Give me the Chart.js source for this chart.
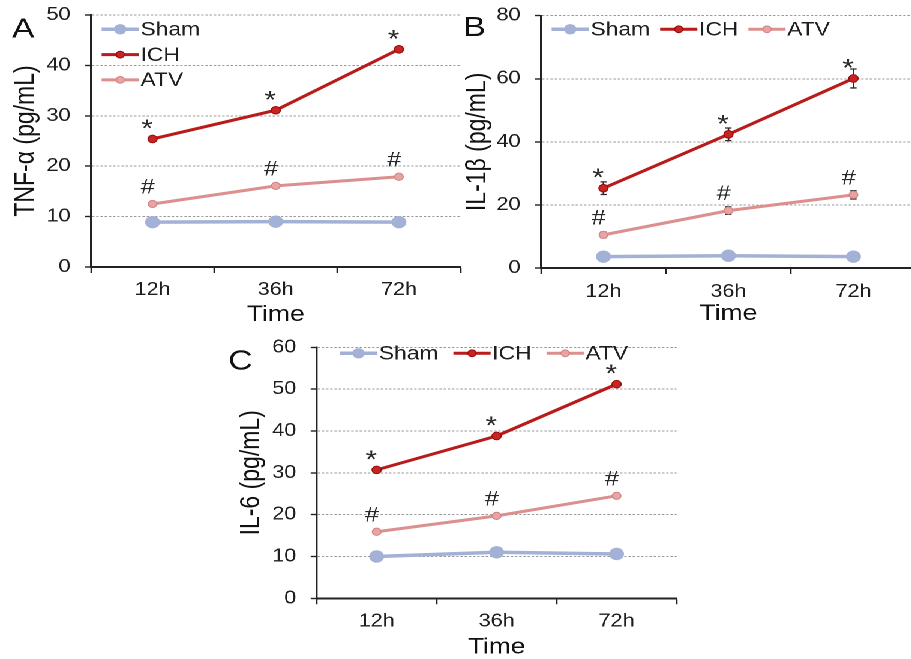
<!DOCTYPE html>
<html><head><meta charset="utf-8">
<script src="https://cdn.jsdelivr.net/npm/chart.js@4.4.1/dist/chart.umd.min.js"></script>
<style>
html,body{margin:0;padding:0;background:#fff;overflow:hidden;width:911px;height:659px;}
#stage{position:absolute;left:0;top:0;width:770px;height:659px;transform:scaleX(1.2);transform-origin:0 0;}
.p{position:absolute;}
</style></head><body>
<div id="stage">
<div class="p" style="left:0;top:0;width:390px;height:330px"><canvas id="cA" width="390" height="330"></canvas></div>
<div class="p" style="left:380px;top:0;width:390px;height:330px"><canvas id="cB" width="390" height="330"></canvas></div>
<div class="p" style="left:185px;top:330px;width:385px;height:329px"><canvas id="cC" width="385" height="329"></canvas></div>
</div>
<script>
// ---- data ----
const categories = ['12h', '36h', '72h'];
const seriesNames = ['Sham', 'ICH', 'ATV'];

const tnfSham = [8.9, 9.0, 8.9];
const tnfICH  = [25.4, 31.1, 43.2];
const tnfATV  = [12.5, 16.1, 17.9];

const il1Sham = [3.6, 3.9, 3.6];
const il1ICH  = [25.3, 42.4, 60.1];
const il1ATV  = [10.5, 18.2, 23.2];
const il1ShamErr = [0.4, 0.4, 0.4];
const il1ICHErr  = [2.0, 2.0, 3.0];
const il1ATVErr  = [0.9, 1.2, 1.3];

const il6Sham = [10.0, 11.0, 10.6];
const il6ICH  = [30.7, 38.8, 51.2];
const il6ATV  = [15.9, 19.7, 24.5];

const ichMarks = ['*', '*', '*'];
const atvMarks = ['#', '#', '#'];

const yTicksA = {max: 50, step: 10};
const yTicksB = {max: 80, step: 20};
const yTicksC = {max: 60, step: 10};

// ---- styling ----
const FONT = "'Liberation Sans', Arial, Helvetica, sans-serif";
Chart.defaults.font.family = FONT;
const INK = '#1e1e1e';
const SHAM_C = '#a2b1d5';
const ICH_C = '#b91a1a';
const ATV_C = '#dc8f8f';

const decor = {
  id: 'decor',
  beforeDatasetsDraw(chart) {
    const ctx = chart.ctx, ys = chart.scales.y;
    chart.data.datasets.forEach((ds, i) => {
      if (!ds.errors) return;
      const meta = chart.getDatasetMeta(i);
      ctx.save();
      ctx.strokeStyle = '#2a2a2a'; ctx.lineWidth = 1.3;
      meta.data.forEach((pt, j) => {
        const v = ds.data[j], e = ds.errors[j];
        const y1 = ys.getPixelForValue(v + e), y2 = ys.getPixelForValue(v - e);
        ctx.beginPath();
        ctx.moveTo(pt.x, y1); ctx.lineTo(pt.x, y2);
        ctx.moveTo(pt.x - 2.6, y1); ctx.lineTo(pt.x + 2.6, y1);
        ctx.moveTo(pt.x - 2.6, y2); ctx.lineTo(pt.x + 2.6, y2);
        ctx.stroke();
      });
      ctx.restore();
    });
  },
  afterDatasetsDraw(chart, args, o) {
    const ctx = chart.ctx;
    // significance marks
    chart.data.datasets.forEach((ds, i) => {
      if (!ds.marks) return;
      const meta = chart.getDatasetMeta(i);
      ctx.save();
      ctx.fillStyle = '#2a2a2a';
      ctx.textAlign = 'center';
      ctx.textBaseline = 'alphabetic';
      meta.data.forEach((pt, j) => {
        const m = ds.marks[j];
        if (m === '*') {
          ctx.font = '25px ' + FONT;
          ctx.fillText(m, pt.x - 4.5, pt.y - 2);
        } else {
          ctx.font = '21px ' + FONT;
          ctx.fillText(m, pt.x - 4, pt.y - 10.5);
        }
      });
      ctx.restore();
    });
    // legend
    const L = o.legend;
    ctx.save();
    ctx.font = '19px ' + FONT;
    ctx.textBaseline = 'middle';
    ctx.textAlign = 'left';
    let x = L.x, y = L.y;
    chart.data.datasets.forEach(ds => {
      ctx.strokeStyle = ds.borderColor; ctx.lineWidth = ds.borderWidth;
      ctx.beginPath(); ctx.moveTo(x, y); ctx.lineTo(x + L.len, y); ctx.stroke();
      ctx.beginPath(); ctx.arc(x + L.len / 2, y, ds.legendRadius, 0, Math.PI * 2);
      ctx.fillStyle = ds.pointBackgroundColor; ctx.fill();
      if (ds.pointBorderWidth) { ctx.strokeStyle = ds.pointBorderColor; ctx.lineWidth = ds.pointBorderWidth; ctx.stroke(); }
      ctx.fillStyle = INK;
      ctx.fillText(ds.label, x + L.len + L.textGap, y + 1);
      const w = ctx.measureText(ds.label).width;
      if (L.vertical) y += L.rowGap; else x += L.len + L.textGap + w + L.itemGap;
    });
    // panel letter
    ctx.font = '28px ' + FONT;
    ctx.fillStyle = '#111';
    ctx.textBaseline = 'alphabetic';
    ctx.fillText(o.letter.text, o.letter.x, o.letter.y);
    ctx.restore();
  }
};

function makeChart(id, c) {
  return new Chart(document.getElementById(id), {
    type: 'line',
    data: {
      labels: categories,
      datasets: [
        {label: seriesNames[0], data: c.sham, errors: c.shamErr,
         borderColor: SHAM_C, backgroundColor: SHAM_C, borderWidth: 3.5,
         pointRadius: 6.2, pointBackgroundColor: SHAM_C, pointBorderColor: SHAM_C, pointBorderWidth: 0,
         legendRadius: 5.2, tension: 0},
        {label: seriesNames[1], data: c.ich, errors: c.ichErr, marks: ichMarks,
         borderColor: ICH_C, backgroundColor: ICH_C, borderWidth: 3,
         pointRadius: 3.8, pointBackgroundColor: '#c82424', pointBorderColor: '#9c0c0c', pointBorderWidth: 1,
         legendRadius: 3.4, tension: 0},
        {label: seriesNames[2], data: c.atv, errors: c.atvErr, marks: atvMarks,
         borderColor: ATV_C, backgroundColor: ATV_C, borderWidth: 3,
         pointRadius: 3.6, pointBackgroundColor: '#e9a3a3', pointBorderColor: '#d48585', pointBorderWidth: 1,
         legendRadius: 3.4, tension: 0}
      ]
    },
    options: {
      responsive: false, animation: false, devicePixelRatio: 2,
      layout: {padding: c.padding},
      plugins: {legend: {display: false}, tooltip: {enabled: false},
        decor: {legend: c.legend, letter: c.letter}},
      scales: {
        x: {
          type: 'category', offset: true,
          grid: {display: true, drawOnChartArea: false, drawTicks: true, offset: true,
                 tickLength: 6, tickColor: '#222', tickWidth: 1.3, color: '#222'},
          border: {display: true, color: '#222', width: 2},
          ticks: {color: INK, font: {size: 18}, padding: c.xPad, maxRotation: 0, autoSkip: false},
          title: {display: true, text: 'Time', color: '#111', font: {size: 22, lineHeight: 1},
                  padding: {top: 0, bottom: c.timePad}},
          afterFit: s => { s.height = c.xH; s.paddingLeft = 0; s.paddingRight = 0; }
        },
        y: {
          min: 0, max: c.yt.max,
          ticks: {stepSize: c.yt.step, color: INK, font: {size: 18}, padding: 12},
          grid: {color: '#9a9a9a', lineWidth: 1, drawTicks: true, tickLength: 5,
                 tickColor: '#222', tickWidth: 1.4, tickBorderDash: []},
          border: {display: true, color: '#222', width: 1.7, dash: [2, 1.5]},
          title: {display: true, text: c.yTitle, color: '#111', font: {size: 23, lineHeight: 1},
                  padding: {top: c.yTitlePad, bottom: 0}},
          afterFit: s => { s.width = c.yW; s.paddingTop = 0; s.paddingBottom = 0; }
        }
      }
    },
    plugins: [decor]
  });
}

makeChart('cA', {
  sham: tnfSham, ich: tnfICH, atv: tnfATV, yt: yTicksA, yTitle: 'TNF-α (pg/mL)',
  padding: {left: 0, right: 5, top: 15, bottom: 0}, yW: 75.8, xH: 63, xPad: 6, timePad: 4, yTitlePad: 10,
  legend: {x: 84.7, y: 29.3, len: 31, textGap: 1.4, vertical: true, rowGap: 25.3},
  letter: {text: 'A', x: 10, y: 37.5}
});
makeChart('cB', {
  sham: il1Sham, ich: il1ICH, atv: il1ATV, shamErr: il1ShamErr, ichErr: il1ICHErr, atvErr: il1ATVErr,
  yt: yTicksB, yTitle: 'IL-1β (pg/mL)',
  padding: {left: 0, right: 6.7, top: 15.7, bottom: 0}, yW: 70.8, xH: 62, xPad: 7, timePad: 5, yTitlePad: 6.5,
  legend: {x: 79.7, y: 29.3, len: 31, textGap: 1.4, vertical: false, itemGap: 8.4},
  letter: {text: 'B', x: 6, y: 36}
});
makeChart('cC', {
  sham: il6Sham, ich: il6ICH, atv: il6ATV, yt: yTicksC, yTitle: 'IL-6 (pg/mL)',
  padding: {left: 0, right: 3.3, top: 17.3, bottom: 0}, yW: 78.9, xH: 60.7, xPad: 6.5, timePad: 0.5, yTitlePad: 13,
  legend: {x: 98.3, y: 23.3, len: 31, textGap: 1.4, vertical: false, itemGap: 12.5},
  letter: {text: 'C', x: 5.3, y: 39.5}
});
</script>
</body></html>
